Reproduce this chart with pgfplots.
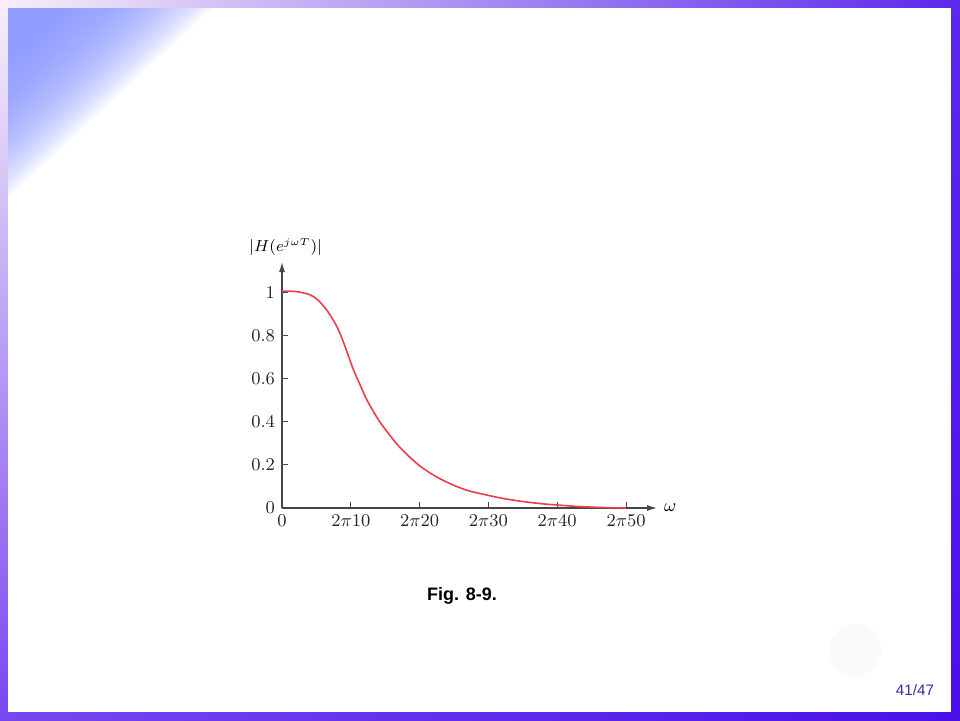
\documentclass[border=0pt]{standalone}
\usepackage{pgfplots}
\pgfplotsset{compat=1.18}
\usepackage{fontspec}
\setmainfont{Liberation Sans}
\usetikzlibrary{arrows.meta,shadings}
\definecolor{frameLight}{RGB}{248,240,248}
\definecolor{frameUR}{RGB}{90,40,235}
\definecolor{frameLL}{RGB}{120,70,240}
\definecolor{frameDark}{RGB}{74,16,232}
\definecolor{cornerBlue}{RGB}{138,152,255}
\definecolor{curveRed}{RGB}{232,64,72}
\definecolor{pageBlue}{RGB}{50,50,160}
\definecolor{axisGray}{RGB}{70,70,70}
\definecolor{faintCircle}{RGB}{250,250,253}
\begin{document}
\begin{tikzpicture}[x=1pt,y=1pt]
\useasboundingbox (0,0) rectangle (480,360);
% slide frame
\shade[upper left=frameLight, upper right=frameUR, lower left=frameLL, lower right=frameDark] (0,0) rectangle (480,360);
\fill[white] (4,4) rectangle (475.5,356);
% top-left blue glow
\foreach \d in {30,32,...,102} {
  \fill[cornerBlue, fill opacity=0.055] (4,356) -- ++(\d,0) -- (4,{356-0.93*\d}) -- cycle;
}
% faint circle
\fill[faintCircle] (427.5,35) circle (13);
\begin{axis}[
  at={(141pt,106pt)}, anchor=south west,
  scale only axis, width=187.5pt, height=123pt,
  xmin=0, xmax=54.5, ymin=0, ymax=1.141,
  axis lines=left,
  axis line style={draw=axisGray, line width=0.6pt, -{Latex[length=5pt,width=3pt]}},
  tick align=inside, major tick length=3pt,
  tick style={draw=axisGray, line width=0.5pt},
  xtick={0,10,20,30,40,50},
  xticklabels={$0$,$2\pi10$,$2\pi20$,$2\pi30$,$2\pi40$,$2\pi50$},
  ytick={0,0.2,0.4,0.6,0.8,1},
  yticklabels={$0$,$0.2$,$0.4$,$0.6$,$0.8$,$1$},
  tick label style={font=\fontsize{9.5}{11}\selectfont, text=black!85},
  xlabel={$\omega$}, xlabel style={at={(axis description cs:1,0)}, anchor=west, xshift=0pt, font=\fontsize{9}{10}\selectfont},
  ylabel={$|H(e^{\scriptscriptstyle j\omega T})|$}, ylabel style={at={(axis description cs:0.01,1.06)}, anchor=center, rotate=-90, font=\fontsize{8}{9}\selectfont},
  clip=false,
]
\addplot[curveRed, line width=0.8pt, smooth] coordinates {
(0,1.006) (2,1.004) (4,0.99) (5.2,0.965) (6.2,0.93) (7,0.895) (8,0.84) (8.8,0.78)
(9.6,0.71) (10.4,0.64) (11.3,0.575) (12.2,0.51) (13.2,0.452) (14.2,0.40) (15.2,0.357)
(16.2,0.316) (17.2,0.279) (18.5,0.238) (20,0.196) (21.5,0.163) (23,0.135) (25,0.105)
(27,0.081) (29.5,0.062) (32,0.045) (35,0.03) (38,0.019) (40,0.014) (43,0.007)
(46,0.003) (48,0.001) (50,0.0)
};
\end{axis}
\node[font=\bfseries\fontsize{9}{10}\selectfont] at (231,62) {Fig. 8-9.};
\node[font=\fontsize{7.6}{9}\selectfont, text=pageBlue] at (457.5,15) {41/47};
\end{tikzpicture}
\end{document}
